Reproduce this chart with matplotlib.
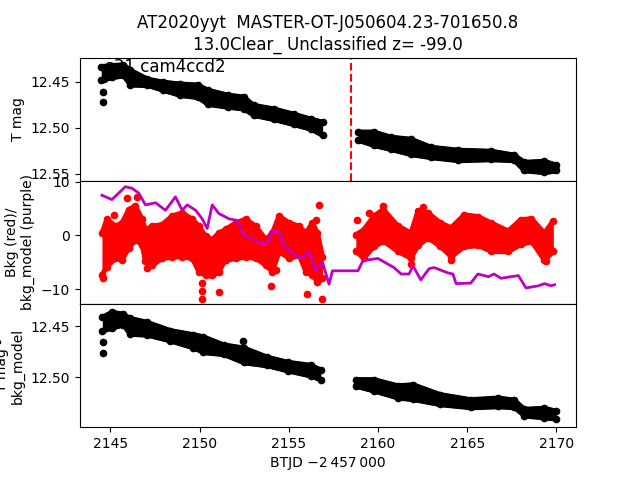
import matplotlib
matplotlib.use("Agg")
import matplotlib.pyplot as plt
from matplotlib.transforms import offset_copy

TITLE = "AT2020yyt  MASTER-OT-J050604.23-701650.8\n13.0Clear_ Unclassified z= -99.0"
SECTOR_LABEL = "s31 cam4ccd2"
T_EVENT = 2158.48

# top panel: T mag, band envelope (bright edge / faint edge) per orbit
t_top1 = [2144.49, 2144.66, 2145.1, 2145.73, 2146.12, 2147.08, 2147.98, 2148.93, 2149.9,
          2150.45, 2151.57, 2152.47, 2153.03, 2154.16, 2155.28, 2156.24, 2156.9]
hi_top1 = [12.4315, 12.431, 12.430, 12.429, 12.435, 12.4446, 12.448, 12.450, 12.451,
           12.4565, 12.462, 12.464, 12.473, 12.477, 12.4826, 12.488, 12.4913]
lo_top1 = [12.451, 12.450, 12.448, 12.446, 12.456, 12.4565, 12.462, 12.4674, 12.4696,
           12.477, 12.480, 12.482, 12.489, 12.4935, 12.499, 12.504, 12.511]
t_top2 = [2158.88, 2159.78, 2160.73, 2161.85, 2162.98, 2164.5, 2166.35, 2167.64, 2168.2,
          2169.33, 2170.0]
hi_top2 = [12.502, 12.502, 12.5076, 12.5098, 12.5185, 12.5217, 12.5228, 12.527, 12.5348,
           12.5337, 12.538]
lo_top2 = [12.516, 12.5217, 12.526, 12.5315, 12.5348, 12.538, 12.537, 12.538, 12.549,
           12.551, 12.549]
t_top_out = [2144.6, 2144.6]
m_top_out = [12.461, 12.472]

# middle panel: background (red) and background model (purple)
t_bkg1 = [2144.53, 2144.81, 2145.28, 2145.66, 2146.03, 2146.4, 2146.78, 2146.97, 2147.34,
          2147.9, 2148.47, 2149.03, 2149.59, 2149.96, 2150.34, 2150.71, 2151.08, 2151.46,
          2152.02, 2152.58, 2153.15, 2153.71, 2154.08, 2154.46, 2155.02, 2155.58, 2155.96,
          2156.33, 2156.61, 2156.89]
hi_bkg1 = [0.9, 3.5, 2.2, 2.8, 5.3, 6.0, 3.5, 1.5, 2.2, 2.5, 4.1, 4.7, 3.5, 2.2, 0.3, -0.3,
           0.9, 1.6, 2.8, 3.5, 2.2, -0.3, 0.9, 4.1, 2.8, 2.2, 0.9, 2.8, 0.9, -3.5]
lo_bkg1 = [-7.9, -6.3, -4.7, -5.0, -2.8, -1.3, -2.2, -5.3, -6.0, -4.7, -4.4, -4.4, -4.7,
           -7.2, -7.9, -7.9, -7.2, -5.0, -4.7, -4.4, -4.7, -6.0, -7.2, -3.5, -4.7, -4.1,
           -7.2, -7.9, -9.1, -8.5]
t_bkg2 = [2158.76, 2159.2, 2159.78, 2160.3, 2161.1, 2161.85, 2162.25, 2162.8, 2163.5,
          2164.1, 2164.83, 2165.6, 2166.35, 2167.3, 2168.0, 2168.6, 2169.33, 2169.83]
hi_bkg2 = [0.6, 1.5, 4.1, 5.3, 2.3, 0.9, 5.1, 4.7, 2.8, 1.9, 4.3, 4.0, 2.8, 1.3, 3.4, 3.6,
           0.9, 3.2]
lo_bkg2 = [-3.4, -4.7, -2.5, -1.5, -3.4, -4.7, -2.3, -0.9, -2.5, -4.4, -2.5, -2.3, -3.4,
           -3.4, -2.1, -1.5, -5.1, -3.4]
t_bkg_out = [2145.94, 2146.5, 2144.6, 2145.19, 2147.06, 2150.11, 2150.11, 2150.11, 2151.08,
             2153.99, 2154.27, 2156.7, 2156.52, 2156.05, 2156.86, 2158.8, 2161.85, 2164.1,
             2159.5, 2160.3, 2162.5, 2169.4]
v_bkg_out = [6.9, 7.2, -7.9, 3.8, -6.0, -8.8, -10.3, -11.9, -10.6, -9.4, -6.4, 5.7, 2.8,
             -11.0, -11.8, 2.8, -5.3, -4.5, 4.1, 5.5, 5.3, -4.7]

t_model = [2144.53, 2145.09, 2145.56, 2145.84, 2146.22, 2146.59, 2146.97, 2147.53, 2148.09,
           2148.65, 2149.03, 2149.31, 2149.78, 2150.15, 2150.43, 2150.71, 2151.08, 2151.65,
           2152.12, 2152.49, 2153.15, 2153.52, 2153.9, 2154.08, 2154.46, 2154.74, 2155.39,
           2155.77, 2156.14, 2156.52, 2156.89, 2157.26, 2157.45, 2158.88, 2159.16, 2160.0,
           2160.9, 2161.3, 2161.74, 2161.97, 2162.4, 2162.87, 2163.15, 2163.93, 2164.2,
           2164.38, 2165.2, 2165.6, 2166.2, 2166.5, 2166.9, 2167.47, 2167.87, 2168.3,
           2169.0, 2169.33, 2169.7, 2169.9]
v_model = [7.5, 6.7, 8.2, 9.1, 8.8, 7.9, 5.7, 6.1, 4.7, 7.2, 4.7, 5.7, 4.7, 3.1, 1.3, 5.7,
           4.1, 3.1, 2.8, 0.0, -0.9, -1.6, -0.9, 0.9, 0.6, -1.9, -3.8, -4.2, -3.1, -6.6,
           -5.0, -9.1, -6.6, -6.6, -4.7, -4.3, -6.0, -7.2, -7.2, -5.7, -8.3, -6.2, -6.0,
           -7.0, -7.2, -9.0, -8.9, -7.2, -7.7, -7.2, -8.0, -7.7, -7.5, -9.8, -9.4, -9.0,
           -9.4, -9.2]

# bottom panel: T mag - bkg_model
t_sub1 = [2144.55, 2145.1, 2145.73, 2146.1, 2147.08, 2148.37, 2149.66, 2150.2, 2151.35,
          2152.47, 2153.8, 2154.94, 2156.24, 2156.8]
hi_sub1 = [12.439, 12.434, 12.436, 12.440, 12.444, 12.452, 12.456, 12.458, 12.466, 12.469,
           12.478, 12.483, 12.486, 12.4905]
lo_sub1 = [12.457, 12.454, 12.451, 12.460, 12.461, 12.4667, 12.4735, 12.478, 12.480,
           12.488, 12.491, 12.496, 12.501, 12.505]
t_sub2 = [2158.76, 2159.78, 2161.1, 2161.97, 2163.5, 2165.2, 2166.74, 2167.64, 2168.2,
          2169.33, 2170.0]
hi_sub2 = [12.50, 12.50, 12.506, 12.505, 12.5147, 12.5196, 12.518, 12.52, 12.529, 12.528,
           12.531]
lo_sub2 = [12.511, 12.5157, 12.5225, 12.524, 12.529, 12.532, 12.531, 12.532, 12.540,
           12.542, 12.543]
t_sub_out = [2144.6, 2144.6, 2152.45]
m_sub_out = [12.466, 12.4765, 12.4645]


def band(ax, t, hi, lo, color):
    # dense scatter cloud: filled envelope, edges traced with round dots kept inside
    fig = ax.figure
    ax.fill_between(t, hi, lo, color=color, lw=0)
    down = offset_copy(ax.transData, fig=fig, x=0, y=-2.5, units='dots')
    up = offset_copy(ax.transData, fig=fig, x=0, y=2.5, units='dots')
    kw = dict(color=color, lw=3.6, ms=4.5, marker='o', solid_joinstyle='round',
              solid_capstyle='round')
    ax.plot(t, hi, transform=down, **kw)
    ax.plot(t, lo, transform=up, **kw)


fig, (ax1, ax2, ax3) = plt.subplots(3, 1, sharex=True)
fig.subplots_adjust(hspace=0)

band(ax1, t_top1, hi_top1, lo_top1, 'k')
band(ax1, t_top2, hi_top2, lo_top2, 'k')
ax1.plot(t_top_out, m_top_out, 'o', color='k', ms=4.5)
ax1.axvline(T_EVENT, color='r', ls='--', lw=1.5)
ax1.set_ylim(12.5576, 12.424)
ax1.set_yticks([12.45, 12.50, 12.55])
ax1.set_ylabel("T mag")
ax1.set_title(TITLE)
ax1.text(0.05, 0.885, SECTOR_LABEL, transform=ax1.transAxes, fontsize=12)

band(ax2, t_bkg1, hi_bkg1, lo_bkg1, 'r')
band(ax2, t_bkg2, hi_bkg2, lo_bkg2, 'r')
ax2.plot(t_bkg_out, v_bkg_out, 'o', color='r', ms=4.5)
ax2.plot(t_model, v_model, color='m', lw=2)
ax2.set_ylim(-12.8, 10.2)
ax2.set_yticks([-10, 0, 10])
ax2.set_ylabel("Bkg (red)/\nbkg_model (purple)")

band(ax3, t_sub1, hi_sub1, lo_sub1, 'k')
band(ax3, t_sub2, hi_sub2, lo_sub2, 'k')
ax3.plot(t_sub_out, m_sub_out, 'o', color='k', ms=4.5)
ax3.set_ylim(12.549, 12.4284)
ax3.set_yticks([12.45, 12.50])
ax3.set_ylabel("T mag -\nbkg_model")

ax3.set_xlim(2143.3, 2171.1)
ax3.set_xticks([2145, 2150, 2155, 2160, 2165, 2170])
ax3.set_xlabel("BTJD \u22122\u2009457\u2009000")

fig.savefig("out.png", dpi=100)
